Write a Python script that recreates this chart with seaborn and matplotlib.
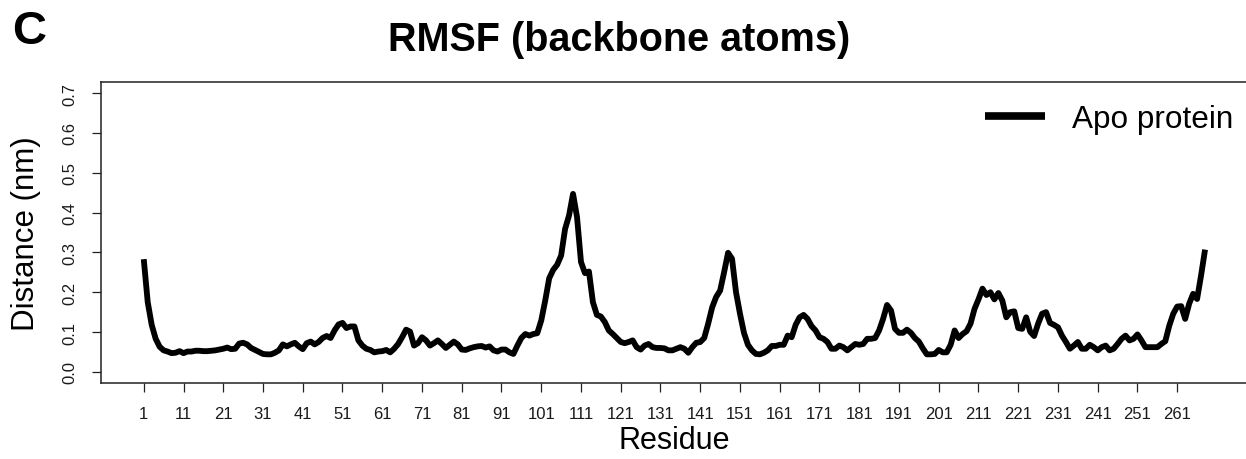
import numpy as np
import pandas as pd
import matplotlib
matplotlib.use("Agg")
import matplotlib.pyplot as plt
import seaborn as sns

# ---- data ----
rmsf = [
    0.283, 0.175, 0.118, 0.083, 0.063, 0.054, 0.051, 0.047, 0.048, 0.052,
    0.047, 0.051, 0.051, 0.053, 0.053, 0.052, 0.052, 0.053, 0.054, 0.056,
    0.058, 0.061, 0.057, 0.058, 0.071, 0.073, 0.069, 0.060, 0.055, 0.050,
    0.045, 0.044, 0.044, 0.048, 0.054, 0.069, 0.064, 0.069, 0.073, 0.064,
    0.057, 0.072, 0.076, 0.069, 0.075, 0.085, 0.090, 0.085, 0.104, 0.119,
    0.123, 0.110, 0.114, 0.114, 0.079, 0.066, 0.058, 0.055, 0.049, 0.051,
    0.052, 0.055, 0.049, 0.058, 0.070, 0.087, 0.106, 0.101, 0.066, 0.072,
    0.087, 0.079, 0.066, 0.072, 0.079, 0.070, 0.060, 0.068, 0.076, 0.069,
    0.056, 0.055, 0.059, 0.062, 0.064, 0.065, 0.061, 0.064, 0.054, 0.051,
    0.056, 0.056, 0.049, 0.045, 0.066, 0.085, 0.095, 0.091, 0.095, 0.097,
    0.129, 0.179, 0.235, 0.256, 0.269, 0.292, 0.359, 0.393, 0.447, 0.389,
    0.276, 0.248, 0.252, 0.175, 0.143, 0.139, 0.125, 0.104, 0.095, 0.085,
    0.075, 0.072, 0.075, 0.079, 0.062, 0.056, 0.066, 0.070, 0.062, 0.060,
    0.060, 0.059, 0.054, 0.054, 0.058, 0.062, 0.058, 0.048, 0.062, 0.073,
    0.075, 0.085, 0.121, 0.162, 0.188, 0.204, 0.250, 0.299, 0.284, 0.200,
    0.146, 0.098, 0.068, 0.054, 0.045, 0.044, 0.048, 0.054, 0.065, 0.065,
    0.068, 0.068, 0.091, 0.087, 0.118, 0.137, 0.143, 0.133, 0.115, 0.104,
    0.087, 0.083, 0.075, 0.058, 0.058, 0.066, 0.062, 0.054, 0.062, 0.070,
    0.068, 0.070, 0.083, 0.083, 0.085, 0.104, 0.133, 0.168, 0.154, 0.108,
    0.098, 0.098, 0.106, 0.098, 0.085, 0.076, 0.059, 0.044, 0.044, 0.045,
    0.055, 0.049, 0.049, 0.068, 0.104, 0.085, 0.095, 0.102, 0.121, 0.158,
    0.182, 0.209, 0.193, 0.200, 0.182, 0.198, 0.179, 0.137, 0.150, 0.152,
    0.110, 0.108, 0.137, 0.101, 0.090, 0.121, 0.146, 0.150, 0.123, 0.118,
    0.112, 0.091, 0.075, 0.058, 0.066, 0.075, 0.058, 0.058, 0.068, 0.062,
    0.054, 0.062, 0.066, 0.054, 0.058, 0.070, 0.083, 0.091, 0.079, 0.083,
    0.094, 0.079, 0.062, 0.062, 0.062, 0.062, 0.070, 0.077, 0.116, 0.146,
    0.164, 0.165, 0.133, 0.171, 0.196, 0.183, 0.242, 0.307,
]
residue = list(range(1, len(rmsf) + 1))
x_ticks = list(range(1, 262, 10))
y_ticks = [0.0, 0.1, 0.2, 0.3, 0.4, 0.5, 0.6, 0.7]
series_label = "Apo protein"
title_text = "RMSF (backbone atoms)"
xlabel_text = "Residue"
ylabel_text = "Distance (nm)"
panel_letter = "C"

# ---- style ----
sns.set_style("ticks")
plt.rcParams["font.family"] = ["Liberation Sans", "DejaVu Sans"]
plt.rcParams["text.color"] = "black"
plt.rcParams["axes.labelcolor"] = "black"

W, H = 1246, 460
fig = plt.figure(figsize=(W / 100, H / 100), dpi=100)
left_px, right_px, top_px, bot_px = 101.3, 1247.5, 83, 384
ax = fig.add_axes([left_px / W, 1 - bot_px / H, (right_px - left_px) / W, (bot_px - top_px) / H])

df = pd.DataFrame({"Residue": residue, "RMSF": rmsf})
sns.lineplot(data=df, x="Residue", y="RMSF", ax=ax, color="black",
             linewidth=4.2, label=series_label, solid_joinstyle="round",
             solid_capstyle="butt")

n = len(rmsf)
pad_x = 0.04 * (n - 1)
ax.set_xlim(1 - pad_x, n + pad_x)
ax.set_ylim(0 - 0.04 * 0.7, 0.7 + 0.04 * 0.7)

ax.set_xticks(x_ticks)
ax.set_xticklabels([str(v) for v in x_ticks])
ax.set_yticks(y_ticks)
ax.set_yticklabels([f"{v:.1f}" for v in y_ticks])
ax.tick_params(axis="both", direction="out", length=6.5, width=0.9,
               color="#222222", labelsize=12, pad=10, labelcolor="#1a1a1a")
ax.tick_params(axis="y", labelrotation=90, pad=11)
for lab in ax.get_yticklabels():
    lab.set_va("center")

for sp in ax.spines.values():
    sp.set_visible(True)
    sp.set_linewidth(1.1)
    sp.set_color("#222222")

ax.set_xlabel(xlabel_text, fontsize=22)
ax.set_ylabel(ylabel_text, fontsize=22.5)
ax.xaxis.set_label_coords(0.5, (bot_px - 441) / (bot_px - top_px))
ax.xaxis.label.set_va("center")
ax.yaxis.set_label_coords((26 - left_px) / (right_px - left_px), 0.5)
ax.yaxis.label.set_va("center")
ax.yaxis.label.set_ha("center")

ax.set_title(title_text, fontsize=28.5, fontweight="bold",
             x=(619 - left_px) / (right_px - left_px),
             y=(bot_px - 48) / (bot_px - top_px), va="center")

fig.text(12 / W, 1 - 32 / H, panel_letter, fontsize=34, fontweight="bold",
         ha="left", va="center")

leg = ax.legend(loc="center right", bbox_to_anchor=(1233 / W, 1 - 120 / H),
                bbox_transform=fig.transFigure, frameon=False, fontsize=22.7,
                handlelength=1.9, handletextpad=0.85, borderaxespad=0, borderpad=0)
for h in leg.legend_handles:
    h.set_linewidth(5.5)

fig.savefig("out.png", dpi=100)
